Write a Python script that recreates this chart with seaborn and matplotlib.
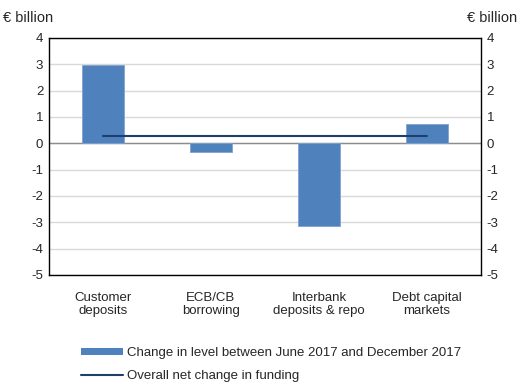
import matplotlib
matplotlib.use("Agg")
import matplotlib.pyplot as plt
import seaborn as sns
import pandas as pd
from matplotlib.patches import Patch
from matplotlib.lines import Line2D

categories = ["Customer\ndeposits", "ECB/CB\nborrowing", "Interbank\ndeposits & repo", "Debt capital\nmarkets"]
change_values = [2.95, -0.33, -3.13, 0.72]
net_change = [0.26, 0.26, 0.26, 0.26]
y_ticks = [4, 3, 2, 1, 0, -1, -2, -3, -4, -5]

sns.set_theme(style="white")
plt.rcParams['font.family'] = ['Liberation Sans', 'DejaVu Sans']

df = pd.DataFrame({"category": categories, "change": change_values, "net": net_change})

fig = plt.figure(figsize=(5.2, 3.9), dpi=100)
ax = fig.add_axes([0.094, 0.295, 0.831, 0.608])

for t in y_ticks:
    ax.axhline(t, color="#d9d9d9", lw=1.0, zorder=0)
ax.axhline(0, color="#8c8c8c", lw=1.0, zorder=1)

sns.barplot(data=df, x="category", y="change", color="#4F81BD", width=0.39,
            saturation=1, ax=ax, zorder=2, edgecolor="#7fa3d0", linewidth=0.6)
sns.lineplot(data=df, x="category", y="net", color="#1F3D6E", lw=1.5, ax=ax, zorder=3)

ax.set_ylim(-5, 4)
ax.set_xlim(-0.5, 3.5)
ax.set_yticks(y_ticks)
ax.set_yticklabels([str(t) for t in y_ticks], fontsize=9.5)
ax.tick_params(axis="x", labelsize=9.5, length=0, pad=12)
ax.tick_params(axis="y", length=0, pad=4, labelright=True, right=False)
for lbl in ax.get_xticklabels():
    lbl.set_linespacing(1.1)
ax.set_xlabel("")
ax.set_ylabel("")
for s in ax.spines.values():
    s.set_color("black")
    s.set_linewidth(1.0)
    s.set_visible(True)

fig.text(0.005, 0.955, "€ billion", fontsize=10.5, ha="left", va="center")
fig.text(0.995, 0.955, "€ billion", fontsize=10.5, ha="right", va="center")

handles = [Patch(facecolor="#4F81BD", edgecolor="none"),
           Line2D([0], [0], color="#1F3D6E", lw=1.5)]
labels = ["Change in level between June 2017 and December 2017",
          "Overall net change in funding"]
fig.legend(handles, labels, loc="upper left", bbox_to_anchor=(0.155, 0.11),
           frameon=False, fontsize=9.5, handlelength=3.2, handleheight=0.45,
           handletextpad=0.35, labelspacing=0.85, borderaxespad=0, borderpad=0)

fig.savefig("out.png", dpi=100)
